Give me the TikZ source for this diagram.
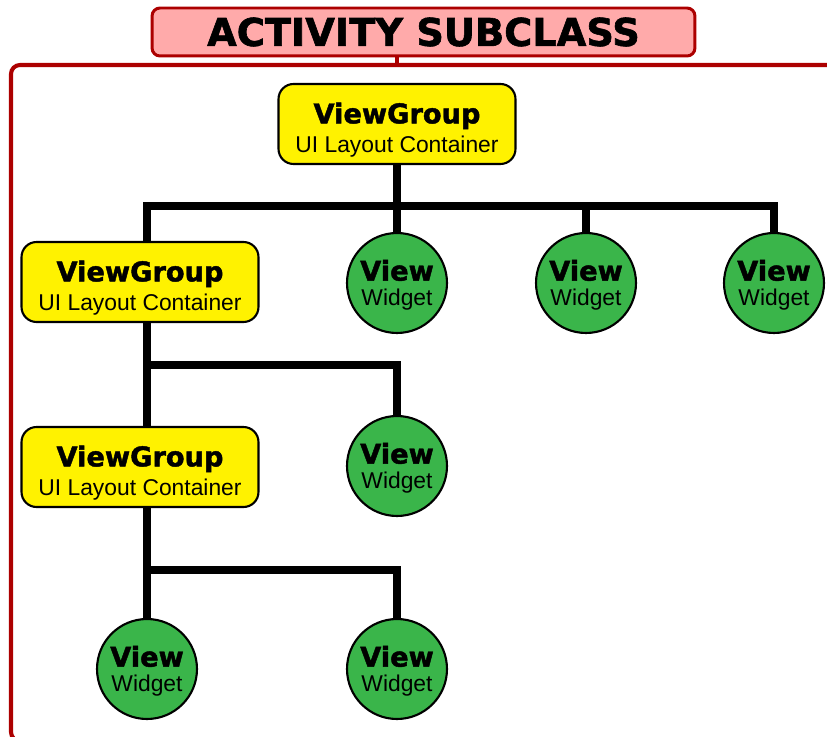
\documentclass[tikz,border=0pt]{standalone}
\usepackage{fontspec}
\setmainfont{Liberation Sans}
\newfontfamily\heavyfont{DejaVu Sans}[BoldFeatures={FakeBold=1.6}]
\usepackage{tikz}
\usetikzlibrary{positioning, calc}
\definecolor{frred}{RGB}{172,0,0}
\definecolor{hdrpink}{RGB}{255,170,170}
\definecolor{boxyellow}{RGB}{255,242,0}
\definecolor{widgreen}{RGB}{58,181,74}
\newcommand{\heavy}[1]{{\heavyfont\bfseries\fontsize{15.5}{17}\selectfont #1}}
\newcommand{\grouptext}{\heavy{\rule{0pt}{18.5pt}ViewGroup}\\UI Layout Container}
\newcommand{\widgettext}{\heavy{\rule{0pt}{14pt}View}\\Widget}
\tikzset{
  groupbox/.style={rectangle, draw=black, fill=boxyellow, line width=1.2pt,
    rounded corners=0.3cm, minimum width=4.74cm, minimum height=1.6cm,
    inner sep=0pt, align=center, font=\fontsize{13}{16.5}\selectfont},
  widget/.style={circle, draw=black, fill=widgreen, line width=1.2pt,
    minimum size=2cm, inner sep=0pt, align=center,
    font=\fontsize{13}{14}\selectfont},
  titlebox/.style={rectangle, draw=frred, fill=hdrpink, line width=1.7pt,
    rounded corners=0.16cm, minimum width=10.86cm, minimum height=0.96cm,
    inner sep=0pt, font=\heavyfont\bfseries\fontsize{21.8}{24}\selectfont},
  link/.style={line width=4.4pt, color=black},
  frameline/.style={line width=2.3pt, color=frred}
}

\begin{document}
\begin{tikzpicture}[x=0.02cm, y=-0.02cm]
  \clip (0,0) rectangle (827,736);

  % outer frame of the activity
  \draw[frameline, rounded corners=0.18cm] (11,65) rectangle (900,741);
  \coordinate (frametop) at (0,65);

  \node[titlebox] (title) at (423.5,32) {ACTIVITY SUBCLASS};

  % layout containers
  \node[groupbox] (vg1) at (397,124) {\grouptext};
  \node[groupbox] (vg2) at (140,282) {\grouptext};
  \node[groupbox] (vg3) at (140,467) {\grouptext};

  % widgets
  \node[widget] (v1) at (397,283) {\widgettext};
  \node[widget] (v2) at (586,283) {\widgettext};
  \node[widget] (v3) at (774,283) {\widgettext};
  \node[widget] (v4) at (397,466) {\widgettext};
  \node[widget] (v5) at (147,669) {\widgettext};
  \node[widget] (v6) at (397,669) {\widgettext};

  \coordinate (bus1) at (0,206);
  \coordinate (bus2) at (0,365);
  \coordinate (bus3) at (0,570);

  \draw[frameline] (title.south -| vg1.north) -- (vg1.north |- frametop);

  % first level
  \draw[link] (vg1.south) -- (v1.north);
  \draw[link] ([xshift=0.14cm]vg2.north) -- ([xshift=0.14cm]vg2.north |- bus1) -| (v3.north);
  \draw[link] (v2.north) -- (v2.north |- bus1);

  % second level
  \draw[link] ([xshift=0.14cm]vg2.south) -- ([xshift=0.14cm]vg3.north);
  \draw[link] ([xshift=0.14cm]vg2.south |- bus2) -| (v4.north);

  % third level
  \draw[link] ([xshift=0.14cm]vg3.south) -- (v5.north);
  \draw[link] ([xshift=0.14cm]vg3.south |- bus3) -| (v6.north);
\end{tikzpicture}
\end{document}
